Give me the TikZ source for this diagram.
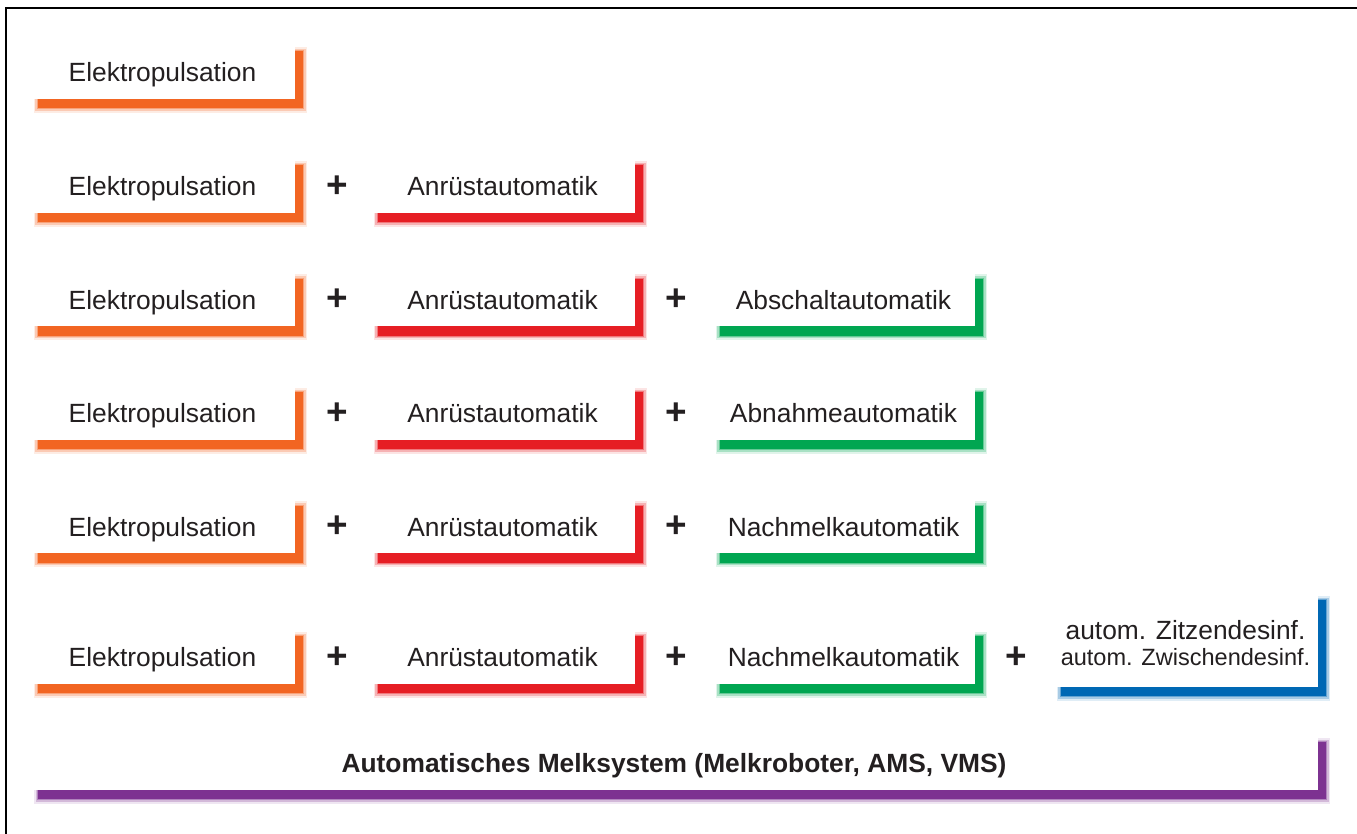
\documentclass[tikz,border=0pt]{standalone}
\usepackage{fontspec}
\setmainfont{Liberation Sans}
\usetikzlibrary{shadows}
\definecolor{orangeline}{RGB}{242,101,34}
\definecolor{redline}{RGB}{230,30,36}
\definecolor{greenline}{RGB}{0,166,81}
\definecolor{blueline}{RGB}{0,104,180}
\definecolor{purpleline}{RGB}{125,50,145}
\definecolor{textcolor}{RGB}{35,31,32}

\tikzset{
  schatten/.style={
    drop shadow={shadow xshift=4.6pt, shadow yshift=-5.2pt, fill=#1, draw=#1, opacity=1, draw opacity=0.12, line width=5pt},
    drop shadow={shadow xshift=4.6pt, shadow yshift=-5.2pt, fill=#1, draw=#1, opacity=1, draw opacity=0.25, line width=3pt},
    drop shadow={shadow xshift=4.6pt, shadow yshift=-5.2pt, fill=#1, draw=#1, opacity=1, draw opacity=0.4, line width=1.2pt}},
  kasten/.style={schatten=#1, fill=white, inner sep=0pt, minimum width=5.3cm, minimum height=1.14cm,
    text height=13pt, text depth=0pt, text=textcolor, font=\fontsize{15}{18}\selectfont},
  plus/.style={font=\bfseries\fontsize{21}{24}\selectfont, text=textcolor, yshift=-1.2pt}
}

\begin{document}
\begin{tikzpicture}[x=0.02cm, y=-0.02cm]
      \useasboundingbox (0,0) rectangle (1357,834);
      % frame
      \draw[line width=1.1pt] (6,834) -- (6,8) -- (1357,8);

      % first column
      \foreach \y [count=\i] in {70.5,184.5,298,411.5,525,655.5}{
          \node[kasten=orangeline] (elektro-\i) at (162.5,\y) {Elektropulsation};
      }

      % second column
      \foreach \y [count=\i from 2] in {184.5,298,411.5,525,655.5}{
          \node[plus] (plusa-\i) at (337,\y) {+};
          \node[kasten=redline] (anruest-\i) at (502.5,\y) {Anrüstautomatik};
      }

      % third column
      \foreach \y/\t [count=\i from 3] in {298/Abschaltautomatik,411.5/Abnahmeautomatik,525/Nachmelkautomatik,655.5/Nachmelkautomatik}{
          \node[plus] (plusb-\i) at (676,\y) {+};
          \node[kasten=greenline, minimum width=5.26cm] (auto-\i) at (843.5,\y) {\t};
      }

      % fourth column
      \node[plus] (plusc-6) at (1016,655.5) {+};
      \node[kasten=blueline, minimum height=1.92cm, text height=, text depth=, align=center] (desinf-6) at (1185.5,639)
          {\rule{0pt}{15.5pt}autom. Zitzendesinf.\\[-3.5pt]{\fontsize{13.4}{16}\selectfont autom. Zwischendesinf.}};

      % last row
      \node[kasten=purpleline, minimum width=25.76cm, font=\bfseries\fontsize{15}{18}\selectfont] (ams) at (674,761.5)
          {Automatisches Melksystem (Melkroboter, AMS, VMS)};
\end{tikzpicture}
\end{document}
